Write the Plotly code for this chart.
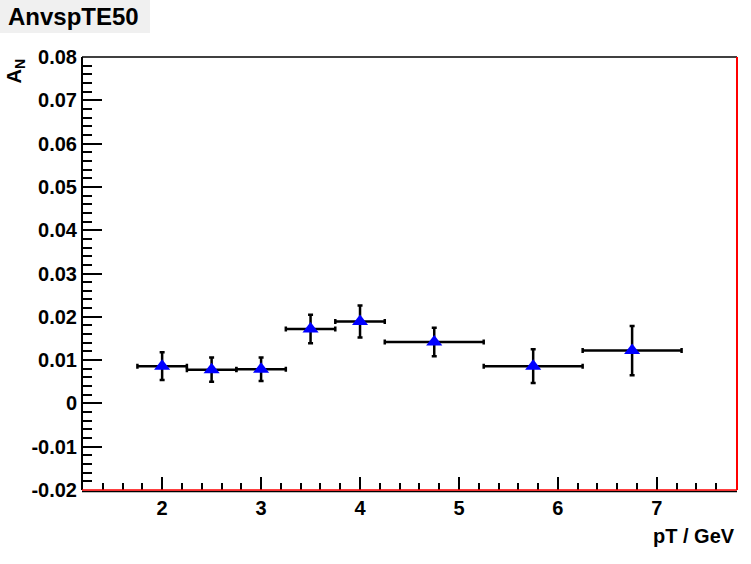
import plotly.graph_objects as go

# Data
pt_centers = [2.0, 2.5, 3.0, 3.5, 4.0, 4.75, 5.75, 6.75]
pt_halfwidth = [0.25, 0.25, 0.25, 0.25, 0.25, 0.5, 0.5, 0.5]
an_values = [0.0086, 0.0078, 0.0079, 0.0172, 0.0189, 0.0142, 0.0086, 0.0122]
an_errors = [0.0032, 0.0028, 0.0027, 0.0033, 0.0037, 0.0033, 0.0039, 0.0057]

x_tickvals = [2, 3, 4, 5, 6, 7]
x_ticktext = ["2", "3", "4", "5", "6", "7"]
y_tickvals = [-0.02, -0.01, 0, 0.01, 0.02, 0.03, 0.04, 0.05, 0.06, 0.07, 0.08]
y_ticktext = ["-0.02", "-0.01", "0", "0.01", "0.02", "0.03", "0.04", "0.05", "0.06", "0.07", "0.08"]

FONT = "Liberation Sans, Arial, Helvetica, sans-serif"

fig = go.Figure()
fig.add_trace(go.Scatter(
    x=pt_centers, y=an_values, mode="markers",
    marker=dict(symbol="triangle-up", size=14, color="#0000ff"),
    error_x=dict(type="data", array=pt_halfwidth, symmetric=True,
                 color="black", thickness=2.5, width=2.5),
    error_y=dict(type="data", array=an_errors, symmetric=True,
                 color="black", thickness=2.5, width=2.5),
    showlegend=False,
))

W, H = 751, 564
L, R, T, B = 82, 14, 57, 74
pw, ph = W - L - R, H - T - B

def px(xp):
    return (xp - L) / pw

def py(yp):
    return (H - B - yp) / ph

fig.update_layout(
    width=W, height=H,
    margin=dict(l=L, r=R, t=T, b=B, pad=0),
    paper_bgcolor="white", plot_bgcolor="white",
    font=dict(family=FONT, size=20, color="black", weight="bold"),
    xaxis=dict(
        range=[1.19, 7.81], showgrid=False, zeroline=False, showline=False,
        tickmode="array", tickvals=x_tickvals, ticktext=x_ticktext,
        ticks="inside", ticklen=13, tickwidth=2, tickcolor="black",
        ticklabelstandoff=4,
        tickfont=dict(family=FONT, size=20, color="black", weight="bold"),
        minor=dict(ticks="inside", ticklen=7, tickwidth=2, tickcolor="black", dtick=0.2, tick0=0),
    ),
    yaxis=dict(
        range=[-0.02, 0.08], showgrid=False, zeroline=False, showline=False,
        tickmode="array", tickvals=y_tickvals, ticktext=y_ticktext,
        ticks="inside", ticklen=20, tickwidth=2, tickcolor="black",
        ticklabelstandoff=4,
        tickfont=dict(family=FONT, size=20, color="black", weight="bold"),
        minor=dict(ticks="inside", ticklen=10, tickwidth=2, tickcolor="black", dtick=0.002, tick0=0),
    ),
    shapes=[
        dict(type="rect", xref="paper", yref="paper", x0=px(0), x1=px(150), y0=py(33), y1=py(0),
             fillcolor="#f0f0f0", line=dict(width=0), layer="below"),
        dict(type="line", xref="paper", yref="paper", x0=0, x1=1, y0=1, y1=1, line=dict(color="black", width=1.5)),
        dict(type="line", xref="paper", yref="paper", x0=0, x1=0, y0=0, y1=1, line=dict(color="black", width=2)),
        dict(type="line", xref="paper", yref="paper", x0=0, x1=1, y0=-1.5 / ph, y1=-1.5 / ph, line=dict(color="black", width=1.5)),
        dict(type="line", xref="paper", yref="paper", x0=0, x1=1, y0=0, y1=0, line=dict(color="#ff0000", width=1.5)),
        dict(type="line", xref="paper", yref="paper", x0=1, x1=1, y0=0, y1=1, line=dict(color="#ff0000", width=2)),
    ],
    annotations=[
        dict(text="AnvspTE50", xref="paper", yref="paper", x=px(6), y=py(17),
             xanchor="left", yanchor="middle", showarrow=False,
             font=dict(family=FONT, size=24, color="black", weight="bold")),
        dict(text="A<sub>N</sub>", xref="paper", yref="paper", x=px(15), y=1.0,
             xanchor="center", yanchor="top", textangle=-90, showarrow=False,
             font=dict(family=FONT, size=20, color="black", weight="bold")),
        dict(text="pT / GeV", xref="paper", yref="paper", x=1.0, y=py(536),
             xanchor="right", yanchor="middle", showarrow=False,
             font=dict(family=FONT, size=20, color="black", weight="bold")),
    ],
)

fig.write_html("out.html", config={"displayModeBar": False},
               post_script="document.body.style.margin='0';document.body.style.padding='0';")
